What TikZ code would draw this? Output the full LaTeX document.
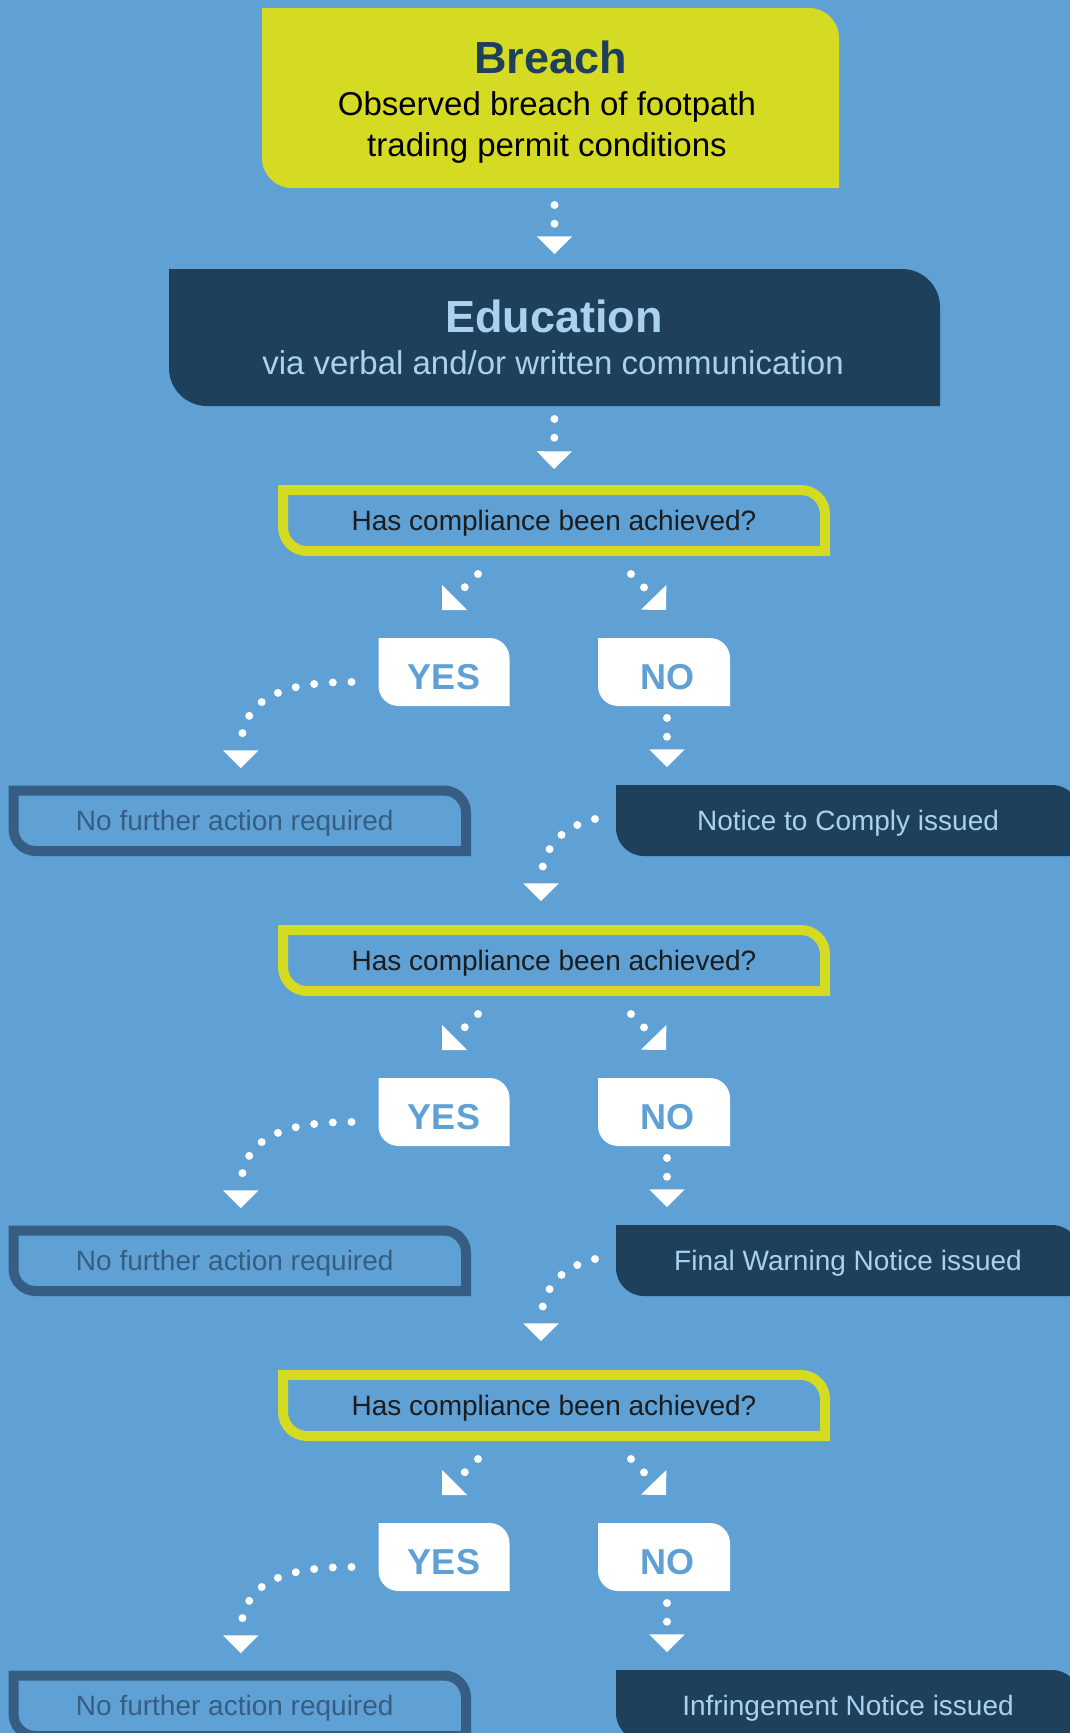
\documentclass[tikz,border=0pt]{standalone}
\usepackage{fontspec}
\setmainfont{Liberation Sans}
\usetikzlibrary{arrows.meta}
\pgfdeclarelayer{bg}
\pgfsetlayers{bg,main}
\definecolor{bgblue}{RGB}{95,160,213}
\definecolor{lime}{RGB}{213,219,34}
\definecolor{navy}{RGB}{30,64,90}
\definecolor{paleblue}{RGB}{168,210,240}
\definecolor{slate}{RGB}{54,94,131}
\definecolor{ink}{RGB}{28,28,28}
\newcommand\leafshape[3]{\path[#3] (#1.north west) -- ([xshift=-#2]#1.north east) arc[start angle=90,end angle=0,radius=#2] -- (#1.south east) -- ([xshift=#2]#1.south west) arc[start angle=270,end angle=180,radius=#2] -- cycle;}
\tikzset{
 box/.style={rectangle, inner sep=0pt, outer sep=0pt},
 qbox/.style={box, minimum width=542pt, minimum height=61pt, font=\fontsize{28}{34}\selectfont, text=ink, text height=19pt, text depth=0pt},
 ynbox/.style={box, minimum height=68pt, font=\bfseries\fontsize{36}{42}\selectfont, text=bgblue, text height=34pt, text depth=0pt},
 nfabox/.style={box, minimum width=452.5pt, minimum height=60.5pt, font=\fontsize{28}{34}\selectfont, text=slate, text height=18.5pt, text depth=0pt},
 actbox/.style={box, minimum width=464pt, minimum height=71pt, font=\fontsize{28}{34}\selectfont, text=paleblue, text height=19pt, text depth=0pt},
 titletext/.style={anchor=base, font=\bfseries\fontsize{45}{54}\selectfont},
 subtext/.style={anchor=base, font=\fontsize{33}{40}\selectfont},
 dotarrow/.style={white, line width=8pt, line cap=round, dash pattern=on 0pt off 18.7pt, -{Triangle[width=35.4pt,length=17.7pt,line width=0pt]}},
}
\begin{document}
\begin{tikzpicture}[x=1pt,y=1pt]
\useasboundingbox (0,0) rectangle (1070,-1733);
% main boxes
\node[box, minimum width=577pt, minimum height=180pt] (breach) at (550.5,-98) {};
\node[titletext, text=navy] (breachT) at (550.5,-73) {Breach};
\node[subtext, text=black] (breachS1) at (547,-115) {Observed breach of footpath};
\node[subtext, text=black] (breachS2) at (547,-156) {trading permit conditions};
\node[box, minimum width=771pt, minimum height=137pt] (edu) at (554.5,-337.5) {};
\node[titletext, text=paleblue] (eduT) at (554,-332) {Education};
\node[subtext, text=paleblue] (eduS) at (553,-374) {via verbal and/or written communication};
% section 1
\node[qbox] (q1) at (554,-520.5) {Has compliance been achieved?};
\node[ynbox, minimum width=131pt] (yes1) at (444,-672) {YES};
\node[ynbox, minimum width=132pt] (no1) at (664,-672) {\hspace*{7pt}NO};
\node[nfabox] (nfa1) at (239.75,-820.75) {No further action required\hspace*{10pt}};
\node[actbox] (act1) at (848,-820.5) {Notice to Comply issued};
% section 2
\node[qbox] (q2) at (554,-960.5) {Has compliance been achieved?};
\node[ynbox, minimum width=131pt] (yes2) at (444,-1112) {YES};
\node[ynbox, minimum width=132pt] (no2) at (664,-1112) {\hspace*{7pt}NO};
\node[nfabox] (nfa2) at (239.75,-1260.75) {No further action required\hspace*{10pt}};
\node[actbox] (act2) at (848,-1260.5) {Final Warning Notice issued};
% section 3
\node[qbox] (q3) at (554,-1405.5) {Has compliance been achieved?};
\node[ynbox, minimum width=131pt] (yes3) at (444,-1557) {YES};
\node[ynbox, minimum width=132pt] (no3) at (664,-1557) {\hspace*{7pt}NO};
\node[nfabox] (nfa3) at (239.75,-1705.75) {No further action required\hspace*{10pt}};
\node[actbox] (act3) at (848,-1705.5) {Infringement Notice issued};
% shapes behind
\begin{pgfonlayer}{bg}
\fill[bgblue] (0,0) rectangle (1070,-1733);
\leafshape{breach}{30pt}{fill=lime}
\leafshape{edu}{38pt}{fill=navy}
\foreach \i in {1,2,3}{
  \leafshape{q\i}{24pt}{draw=lime, line width=10pt}
  \leafshape{yes\i}{20pt}{fill=white}
  \leafshape{no\i}{20pt}{fill=white}
  \leafshape{nfa\i}{22pt}{draw=slate, line width=10pt}
  \leafshape{act\i}{28pt}{fill=navy}
}
\end{pgfonlayer}
% connectors
\draw[dotarrow, shorten <=17pt, shorten >=15pt] (breach.south -| edu.north) -- (edu.north);
\draw[dotarrow, shorten <=13pt, shorten >=21pt] (edu.south) -- (q1.north);
\foreach \i in {1,2,3}{
  \coordinate (nofoot\i) at ([xshift=3pt]no\i.south);
  \draw[dotarrow] ([shift={(-76pt,-23pt)}]q\i.south) -- ([shift={(-2pt,28pt)}]yes\i.north);
  \draw[dotarrow] ([shift={(77pt,-23pt)}]q\i.south) -- ([shift={(2pt,28pt)}]no\i.north);
  \draw[dotarrow] ([shift={(-27pt,-10pt)}]yes\i.west) .. controls +(-81pt,0pt) and +(0pt,63pt) .. ([shift={(1pt,22.5pt)}]nfa\i.north);
  \draw[dotarrow, shorten <=12pt, shorten >=18pt] (nofoot\i) -- (nofoot\i |- act\i.north);
}
\draw[dotarrow] ([shift={(-21pt,1.5pt)}]act1.west) .. controls +(-30pt,-7pt) and +(0pt,56pt) .. ([shift={(-13pt,29pt)}]q2.north);
\draw[dotarrow] ([shift={(-21pt,1.5pt)}]act2.west) .. controls +(-30pt,-7pt) and +(0pt,56pt) .. ([shift={(-13pt,34pt)}]q3.north);
\end{tikzpicture}
\end{document}
